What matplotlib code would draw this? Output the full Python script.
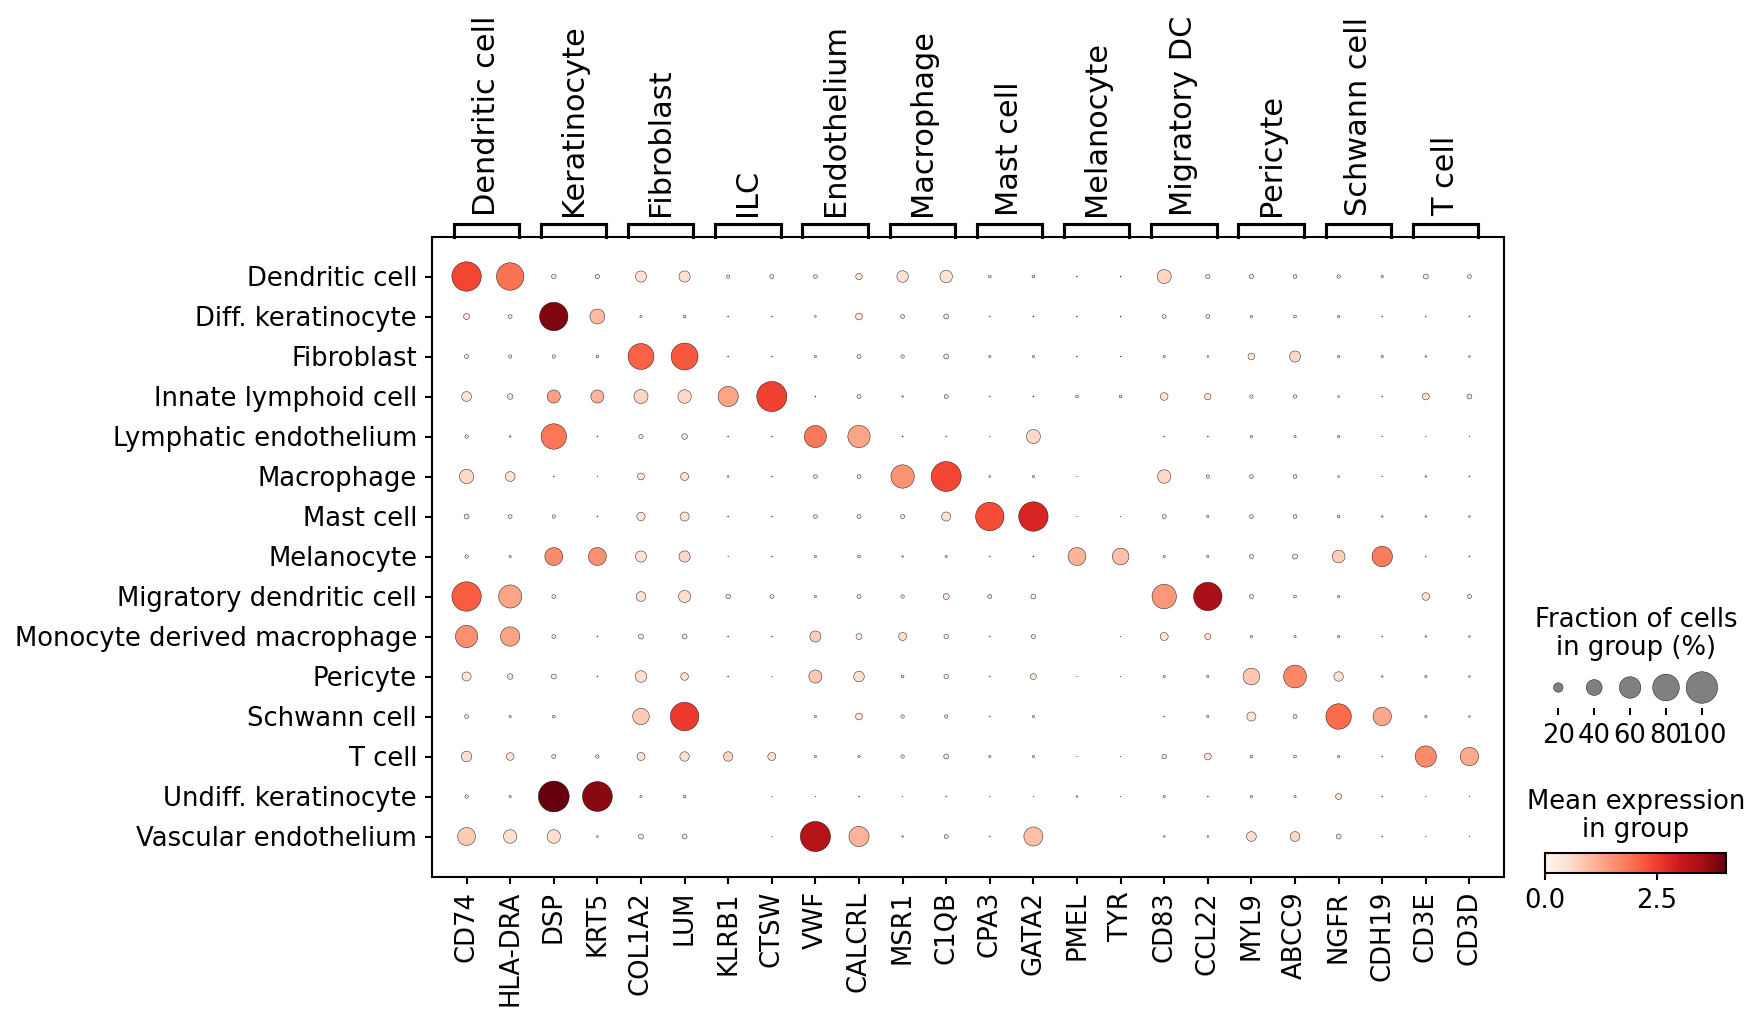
import numpy as np
import matplotlib
matplotlib.use("Agg")
import matplotlib.pyplot as plt
from matplotlib.colors import Normalize
from matplotlib.cm import ScalarMappable

# ---------------- data ----------------
cell_types = ["Dendritic cell", "Diff. keratinocyte", "Fibroblast", "Innate lymphoid cell",
              "Lymphatic endothelium", "Macrophage", "Mast cell", "Melanocyte",
              "Migratory dendritic cell", "Monocyte derived macrophage", "Pericyte",
              "Schwann cell", "T cell", "Undiff. keratinocyte", "Vascular endothelium"]

genes = ["CD74", "HLA-DRA", "DSP", "KRT5", "COL1A2", "LUM", "KLRB1", "CTSW", "VWF", "CALCRL",
         "MSR1", "C1QB", "CPA3", "GATA2", "PMEL", "TYR", "CD83", "CCL22", "MYL9", "ABCC9",
         "NGFR", "CDH19", "CD3E", "CD3D"]

group_labels = ["Dendritic cell", "Keratinocyte", "Fibroblast", "ILC", "Endothelium", "Macrophage",
                "Mast cell", "Melanocyte", "Migratory DC", "Pericyte", "Schwann cell", "T cell"]
group_starts = [0, 2, 4, 6, 8, 10, 12, 14, 16, 18, 20, 22]
group_ends = [1, 3, 5, 7, 9, 11, 13, 15, 17, 19, 21, 23]

# fraction of cells expressing (0-1), one list per cell type
frac_dendritic = [0.91, 0.83, 0.075, 0.07, 0.25, 0.25, 0.05, 0.065, 0.06, 0.12, 0.26, 0.29, 0.04, 0.04, 0.01, 0.01, 0.34, 0.07, 0.07, 0.06, 0.05, 0.03, 0.085, 0.06]
frac_diffker = [0.11, 0.06, 0.87, 0.37, 0.03, 0.04, 0.01, 0.01, 0.02, 0.13, 0.06, 0.085, 0.01, 0.01, 0.01, 0.01, 0.06, 0.06, 0.03, 0.04, 0.03, 0.01, 0.01, 0.01]
frac_fibro = [0.065, 0.05, 0.05, 0.04, 0.77, 0.81, 0.01, 0.01, 0.03, 0.065, 0.05, 0.085, 0.03, 0.03, 0.01, 0.007, 0.03, 0.02, 0.13, 0.25, 0.03, 0.03, 0.02, 0.02]
frac_ilc = [0.21, 0.10, 0.31, 0.31, 0.34, 0.32, 0.55, 0.94, 0.01, 0.065, 0.02, 0.065, 0.01, 0.01, 0.04, 0.04, 0.15, 0.12, 0.05, 0.05, 0.02, 0.01, 0.13, 0.085]
frac_lymph = [0.05, 0.02, 0.75, 0.01, 0.07, 0.10, 0.01, 0.01, 0.62, 0.63, 0.01, 0.01, 0.005, 0.34, 0.0, 0.0, 0.01, 0.01, 0.03, 0.03, 0.03, 0.005, 0.005, 0.005]
frac_macro = [0.35, 0.21, 0.01, 0.005, 0.13, 0.16, 0.02, 0.01, 0.06, 0.06, 0.67, 0.93, 0.02, 0.03, 0.005, 0.0, 0.32, 0.05, 0.06, 0.06, 0.02, 0.005, 0.02, 0.01]
frac_mast = [0.085, 0.06, 0.05, 0.01, 0.17, 0.19, 0.01, 0.01, 0.06, 0.065, 0.065, 0.19, 0.87, 0.91, 0.005, 0.005, 0.065, 0.03, 0.06, 0.06, 0.04, 0.02, 0.02, 0.02]
frac_melano = [0.05, 0.03, 0.47, 0.47, 0.25, 0.25, 0.005, 0.01, 0.03, 0.04, 0.02, 0.03, 0.01, 0.01, 0.47, 0.43, 0.03, 0.03, 0.065, 0.085, 0.30, 0.56, 0.01, 0.01]
frac_migdc = [0.91, 0.66, 0.06, 0.0, 0.21, 0.28, 0.075, 0.06, 0.03, 0.065, 0.05, 0.11, 0.065, 0.085, 0.0, 0.0, 0.71, 0.87, 0.065, 0.04, 0.03, 0.0, 0.15, 0.065]
frac_mono = [0.63, 0.52, 0.06, 0.01, 0.085, 0.085, 0.01, 0.01, 0.25, 0.11, 0.16, 0.075, 0.01, 0.065, 0.0, 0.005, 0.16, 0.11, 0.03, 0.03, 0.03, 0.01, 0.02, 0.02]
frac_peri = [0.19, 0.10, 0.085, 0.01, 0.26, 0.15, 0.01, 0.005, 0.31, 0.23, 0.04, 0.075, 0.01, 0.11, 0.005, 0.005, 0.03, 0.03, 0.43, 0.65, 0.20, 0.02, 0.03, 0.02]
frac_schwann = [0.06, 0.03, 0.04, 0.0, 0.42, 0.87, 0.0, 0.0, 0.03, 0.13, 0.05, 0.05, 0.01, 0.03, 0.0, 0.0, 0.01, 0.03, 0.19, 0.065, 0.75, 0.49, 0.03, 0.02]
frac_tcell = [0.23, 0.15, 0.065, 0.05, 0.16, 0.20, 0.20, 0.16, 0.03, 0.03, 0.05, 0.085, 0.03, 0.03, 0.005, 0.005, 0.075, 0.13, 0.04, 0.04, 0.03, 0.01, 0.59, 0.49]
frac_undiffker = [0.05, 0.03, 0.97, 0.93, 0.03, 0.04, 0.0, 0.005, 0.005, 0.01, 0.005, 0.01, 0.005, 0.005, 0.02, 0.005, 0.03, 0.01, 0.03, 0.03, 0.11, 0.01, 0.005, 0.005]
frac_vascular = [0.47, 0.32, 0.32, 0.02, 0.085, 0.085, 0.0, 0.005, 0.94, 0.55, 0.02, 0.065, 0.01, 0.51, 0.0, 0.0, 0.02, 0.02, 0.21, 0.21, 0.085, 0.01, 0.005, 0.005]

# mean expression in group
expr_dendritic = [2.4, 1.9, 0.3, 0.3, 0.5, 0.5, 0.3, 0.3, 0.3, 0.4, 0.5, 0.45, 0.3, 0.3, 0.3, 0.3, 0.65, 0.3, 0.3, 0.3, 0.3, 0.3, 0.35, 0.3]
expr_diffker = [0.3, 0.3, 3.85, 1.0, 0.3, 0.3, 0.3, 0.3, 0.3, 0.4, 0.3, 0.3, 0.3, 0.3, 0.3, 0.3, 0.3, 0.3, 0.3, 0.3, 0.3, 0.3, 0.3, 0.3]
expr_fibro = [0.3, 0.3, 0.3, 0.3, 2.1, 2.2, 0.3, 0.3, 0.3, 0.3, 0.3, 0.3, 0.3, 0.3, 0.3, 0.3, 0.3, 0.3, 0.4, 0.6, 0.3, 0.3, 0.3, 0.3]
expr_ilc = [0.45, 0.3, 1.35, 1.1, 0.65, 0.6, 1.3, 2.45, 0.3, 0.3, 0.3, 0.3, 0.3, 0.3, 0.3, 0.3, 0.4, 0.4, 0.3, 0.3, 0.3, 0.3, 0.45, 0.35]
expr_lymph = [0.3, 0.3, 1.85, 0.3, 0.3, 0.3, 0.3, 0.3, 1.85, 1.3, 0.3, 0.3, 0.3, 0.6, 0.3, 0.3, 0.3, 0.3, 0.3, 0.3, 0.3, 0.3, 0.3, 0.3]
expr_macro = [0.6, 0.5, 0.3, 0.3, 0.4, 0.45, 0.3, 0.3, 0.3, 0.3, 1.5, 2.4, 0.3, 0.3, 0.3, 0.3, 0.6, 0.3, 0.3, 0.3, 0.3, 0.3, 0.3, 0.3]
expr_mast = [0.3, 0.3, 0.3, 0.3, 0.45, 0.5, 0.3, 0.3, 0.3, 0.3, 0.3, 0.5, 2.35, 2.85, 0.3, 0.3, 0.3, 0.3, 0.3, 0.3, 0.3, 0.3, 0.3, 0.3]
expr_melano = [0.3, 0.3, 1.6, 1.55, 0.5, 0.6, 0.3, 0.3, 0.3, 0.3, 0.3, 0.3, 0.3, 0.3, 1.1, 0.95, 0.3, 0.3, 0.3, 0.35, 0.75, 1.8, 0.3, 0.3]
expr_migdc = [2.15, 1.3, 0.3, 0.3, 0.45, 0.55, 0.3, 0.3, 0.3, 0.3, 0.3, 0.35, 0.3, 0.3, 0.3, 0.3, 1.45, 3.45, 0.3, 0.3, 0.3, 0.3, 0.5, 0.3]
expr_mono = [1.55, 1.3, 0.3, 0.3, 0.3, 0.3, 0.3, 0.3, 0.75, 0.35, 0.5, 0.3, 0.3, 0.3, 0.3, 0.3, 0.45, 0.5, 0.3, 0.3, 0.3, 0.3, 0.3, 0.3]
expr_peri = [0.45, 0.3, 0.3, 0.3, 0.55, 0.5, 0.3, 0.3, 0.85, 0.5, 0.3, 0.3, 0.3, 0.35, 0.3, 0.3, 0.3, 0.3, 0.85, 1.65, 0.5, 0.3, 0.3, 0.3]
expr_schwann = [0.3, 0.3, 0.3, 0.3, 0.8, 2.55, 0.3, 0.3, 0.3, 0.4, 0.3, 0.3, 0.3, 0.3, 0.3, 0.3, 0.3, 0.3, 0.5, 0.3, 2.0, 1.25, 0.3, 0.3]
expr_tcell = [0.55, 0.45, 0.3, 0.3, 0.45, 0.5, 0.65, 0.5, 0.3, 0.3, 0.3, 0.3, 0.3, 0.3, 0.3, 0.3, 0.3, 0.45, 0.3, 0.3, 0.3, 0.3, 1.6, 1.2]
expr_undiffker = [0.3, 0.3, 4.04, 3.75, 0.3, 0.3, 0.3, 0.3, 0.3, 0.3, 0.3, 0.3, 0.3, 0.3, 0.3, 0.3, 0.3, 0.3, 0.3, 0.3, 0.4, 0.3, 0.3, 0.3]
expr_vascular = [0.8, 0.5, 0.55, 0.3, 0.3, 0.3, 0.3, 0.3, 3.3, 1.1, 0.3, 0.3, 0.3, 0.95, 0.3, 0.3, 0.3, 0.3, 0.55, 0.6, 0.3, 0.3, 0.3, 0.3]

legend_fracs = [0.2, 0.4, 0.6, 0.8, 1.0]
legend_labels = ["20", "40", "60", "80", "100"]
cbar_ticks = [0.0, 2.5]

# ---------------- figure ----------------
frac = np.array([frac_dendritic, frac_diffker, frac_fibro, frac_ilc, frac_lymph, frac_macro,
                 frac_mast, frac_melano, frac_migdc, frac_mono, frac_peri, frac_schwann,
                 frac_tcell, frac_undiffker, frac_vascular])
expr = np.array([expr_dendritic, expr_diffker, expr_fibro, expr_ilc, expr_lymph, expr_macro,
                 expr_mast, expr_melano, expr_migdc, expr_mono, expr_peri, expr_schwann,
                 expr_tcell, expr_undiffker, expr_vascular])

W, H, DPI = 1758, 1016, 150
FS = 12.45
FS_GROUP = 14.6
SMAX = 229.0
plt.rcParams["font.family"] = ["DejaVu Sans"]
plt.rcParams["font.size"] = FS

fig = plt.figure(figsize=(W / DPI, H / DPI), dpi=DPI)


def px_axes(l, t, r, b):
    return fig.add_axes([l / W, 1 - b / H, (r - l) / W, (b - t) / H])


cmap = plt.get_cmap("Reds")
norm = Normalize(vmin=0, vmax=expr.max())

ax = px_axes(431.7, 236.5, 1504.3, 876.5)
nr, nc = frac.shape
xx, yy = np.meshgrid(np.arange(nc) + 0.5, np.arange(nr) + 0.5)
ax.scatter(xx.ravel(), yy.ravel(), s=(frac.ravel() ** 1.5) * SMAX, c=expr.ravel(),
           cmap=cmap, norm=norm, edgecolors="black", linewidths=0.2, zorder=3)
ax.set_xlim(-0.3, nc + 0.3)
ax.set_ylim(nr + 0.5, -0.5)
ax.set_xticks(np.arange(nc) + 0.5)
ax.set_xticklabels(genes, rotation=90)
ax.set_yticks(np.arange(nr) + 0.5)
ax.set_yticklabels(cell_types)
ax.tick_params(width=1.0)
for sp in ax.spines.values():
    sp.set_linewidth(1.0)

# gene group brackets
axg = px_axes(431.7, 0, 1504.3, 236.5)
axg.set_xlim(-0.3, nc + 0.3)
axg.set_ylim(0, 236.5)
axg.axis("off")
for lab, s0, s1 in zip(group_labels, group_starts, group_ends):
    left = s0 + 0.5 - 0.3
    right = s1 + 0.5 + 0.2
    axg.plot([left, left, right, right], [0, 12.5, 12.5, 0], color="black", lw=1.5,
             solid_joinstyle="miter", clip_on=False)
    axg.text((left + right) / 2, 21, lab, rotation=90, ha="center", va="bottom",
             fontsize=FS_GROUP)

# size legend
axs = px_axes(1535, 600, 1737, 708)
axs.set_xlim(-0.649, 4.978)
axs.set_ylim(0, 108)
sizes = np.array(legend_fracs) ** 1.5 * SMAX
axs.scatter(np.arange(len(legend_fracs)), np.full(len(legend_fracs), 20.5), s=sizes,
            color="gray", edgecolors="black", linewidths=0.2, zorder=3)
axs.set_xticks(np.arange(len(legend_fracs)))
axs.set_xticklabels(legend_labels, fontsize=FS)
axs.tick_params(axis="x", width=1.0)
axs.tick_params(axis="y", left=False, labelleft=False)
for sp in axs.spines.values():
    sp.set_visible(False)
fig.text(1636 / W, 1 - 634 / H, "Fraction of cells\nin group (%)", ha="center", va="center",
         fontsize=FS, linespacing=1.1)

# colour legend
cax = px_axes(1545, 853, 1726, 873)
cb = fig.colorbar(ScalarMappable(norm=norm, cmap=cmap), cax=cax, orientation="horizontal")
cb.set_ticks(cbar_ticks)
cb.set_ticklabels(["%.1f" % t for t in cbar_ticks])
cb.outline.set_linewidth(1.0)
cax.tick_params(labelsize=FS, width=1.0)
fig.text(1636 / W, 1 - 816 / H, "Mean expression\nin group", ha="center", va="center",
         fontsize=FS, linespacing=1.1)

fig.savefig("out.png", dpi=DPI)
